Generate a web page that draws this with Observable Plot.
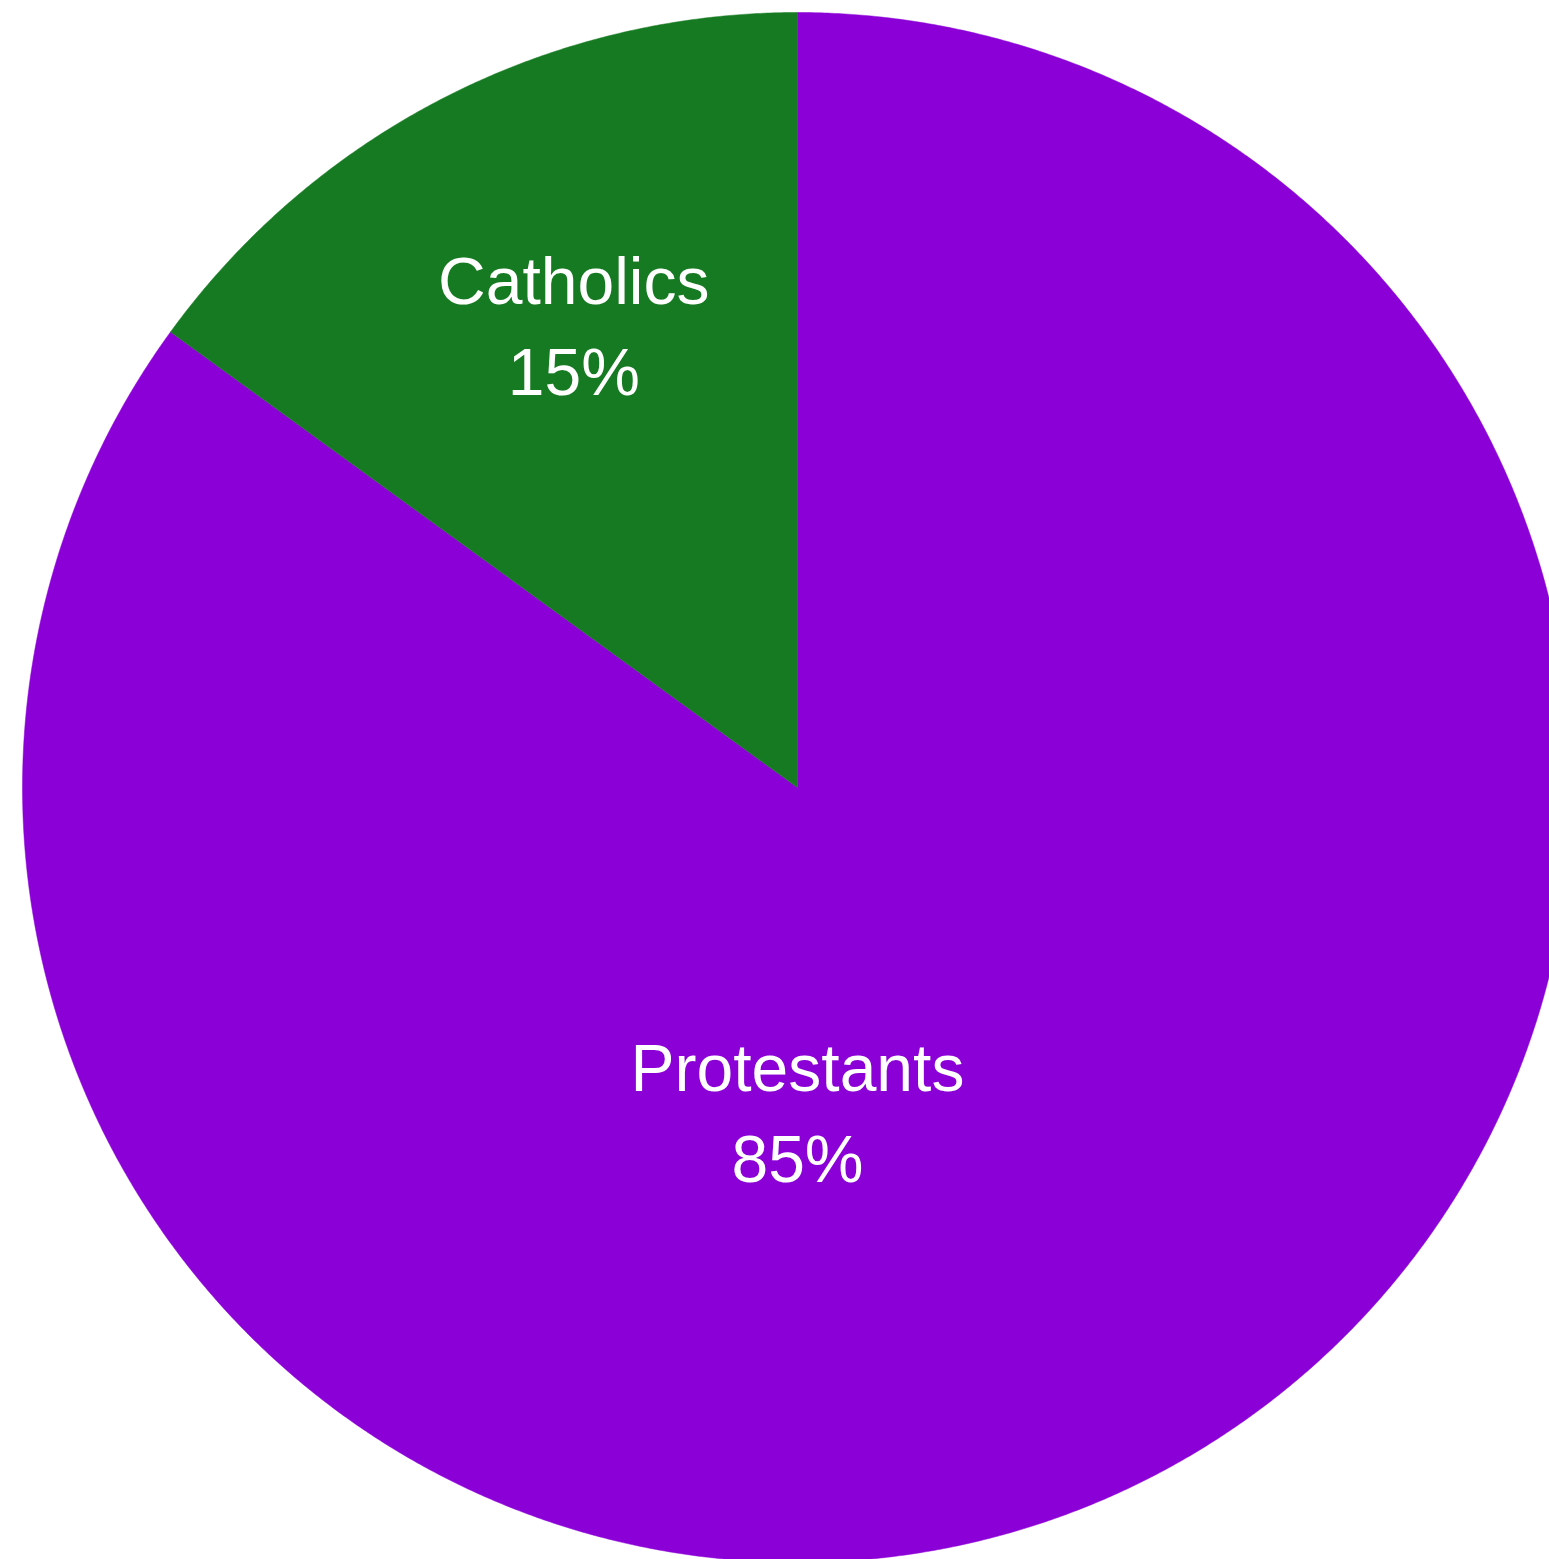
<!DOCTYPE html>
<html>
<head>
<meta charset="utf-8">
<script src="https://cdn.jsdelivr.net/npm/d3@7"></script>
<script src="https://cdn.jsdelivr.net/npm/@observablehq/plot@0.6"></script>
<style>
  html, body { margin: 0; padding: 0; background: #fff; overflow: hidden; }
  #chart svg { display: block; overflow: hidden; }
</style>
</head>
<body>
<div id="chart"></div>
<script>
// ---- data ----
const categories = ["Protestants", "Catholics"];
const shares = [85, 15];
const colors = ["#8b00d6", "#167a22"];

// ---- layout (not data) ----
const W = 1549, H = 1559;
const cx = 797, cy = 787, R = 775;
// label placement: polar angle (deg, clockwise from top) and radius fraction
const labelPlacement = {
  Protestants: {angle: 180, r: 0.413},
  Catholics: {angle: 334.4, r: 0.668}
};

const pie = d3.pie().sort(null).value((d, i) => shares[i])(categories);

const pts = [];
pie.forEach((p, i) => {
  const name = categories[i];
  pts.push({name, x: 0, y: 0});
  const steps = Math.max(2, Math.ceil((p.endAngle - p.startAngle) / (Math.PI / 720)));
  for (let k = 0; k <= steps; k++) {
    const a = p.startAngle + (p.endAngle - p.startAngle) * k / steps;
    pts.push({name, x: Math.sin(a), y: Math.cos(a)});
  }
  pts.push({name, x: 0, y: 0});
});

const labels = categories.map((name, i) => {
  const lp = labelPlacement[name];
  const a = lp.angle * Math.PI / 180;
  return {name, text: `${name}\n${shares[i]}%`, x: lp.r * Math.sin(a), y: lp.r * Math.cos(a)};
});

const chart = Plot.plot({
  width: W,
  height: H,
  marginLeft: cx - R,
  marginRight: 0,
  marginTop: cy - R,
  marginBottom: 0,
  x: {domain: [-1, (W - cx) / R], axis: null},
  y: {domain: [-(H - cy) / R, 1], axis: null},
  color: {domain: categories, range: colors},
  style: {background: "white", fontFamily: "'Liberation Sans', Arial, sans-serif"},
  marks: [
    Plot.line(pts, {x: "x", y: "y", z: "name", fill: "name", stroke: "name", strokeWidth: 0.5, curve: "linear"}),
    Plot.text(labels, {
      x: "x", y: "y", text: "text",
      fill: "white", fontSize: 66, lineHeight: 1.38,
      textAnchor: "middle", lineAnchor: "middle",
      fontFamily: "'Liberation Sans', Arial, sans-serif"
    })
  ]
});
document.getElementById("chart").appendChild(chart);
</script>
</body>
</html>
